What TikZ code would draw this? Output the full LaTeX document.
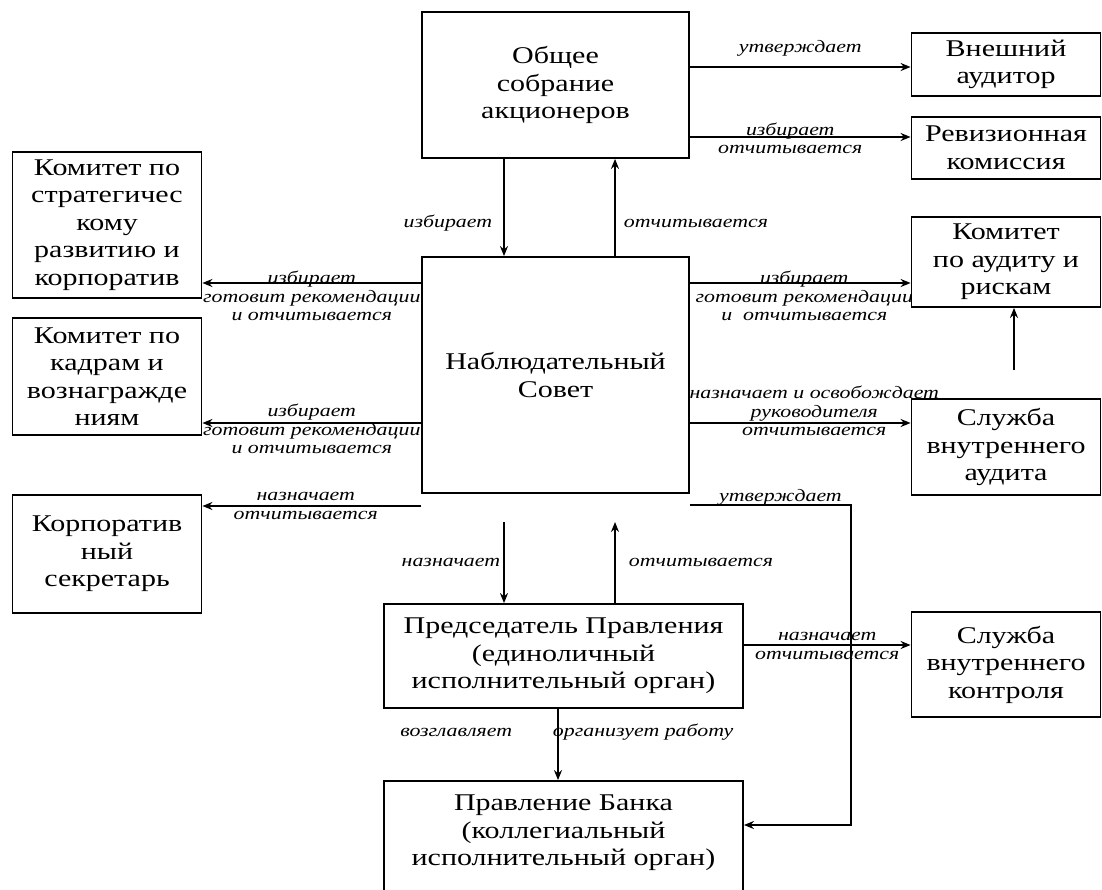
\documentclass[tikz,border=0pt]{standalone}
\usepackage{fontspec}
\setmainfont{Liberation Serif}[FakeStretch=1.25]
\usepackage{tikz}
\usetikzlibrary{arrows.meta,calc}
\newcommand{\boxfont}{\fontsize{24}{27.5}\selectfont}
\newcommand{\lblfont}{\itshape\fontsize{17.5}{18.5}\selectfont}
\pgfdeclarelayer{bg}
\pgfsetlayers{bg,main}
\tikzstyle{mainbox} = [rectangle, font=\boxfont, minimum width=267pt, align=center, draw=black, fill=white, line width=1.8pt]
\tikzstyle{execbox} = [rectangle, font=\boxfont, minimum width=359pt, align=center, draw=black, fill=white, line width=1.8pt]
\tikzstyle{sidebox} = [rectangle, font=\boxfont, minimum width=189pt, align=center, draw=black, fill=white, line width=1.8pt]
\tikzstyle{lbl} = [font=\lblfont, align=center, inner sep=3pt]
\tikzstyle{arrow} = [line width=1.8pt,->,>={Stealth[length=10pt,width=8pt]}]
\begin{document}
\begin{tikzpicture}[x=1pt, y=1pt]
\clip (0,0) rectangle (1102,-890);
\node (gm) [mainbox, minimum height=146pt] at (555.5,-85) {Общее\\собрание\\акционеров};
\node (ns) [mainbox, minimum height=236pt, node distance=290pt, below of=gm] {Наблюдательный\\Совет};
\node (pred) [execbox, minimum height=104pt, node distance=281pt, below of=ns, xshift=8pt] {Председатель Правления\\(единоличный\\исполнительный орган)};
\node (prav) [execbox, minimum height=126pt, node distance=188pt, below of=pred] {Правление Банка\\(коллегиальный\\исполнительный орган)\\ \mbox{}};
\node (vn) [sidebox, minimum height=63pt, node distance=450.5pt, right of=gm, yshift=20.5pt] {Внешний\\аудитор};
\node (rev) [sidebox, minimum height=62pt, node distance=83.5pt, below of=vn] {Ревизионная\\комиссия};
\node (ka) [sidebox, minimum height=90pt, node distance=114pt, below of=rev] {Комитет\\по аудиту и\\рискам};
\node (sva) [sidebox, minimum height=96pt, node distance=185pt, below of=ka] {Служба\\внутреннего\\аудита};
\node (svk) [sidebox, minimum height=105pt, node distance=217.5pt, below of=sva] {Служба\\внутреннего\\контроля};
\node (ks) [sidebox, minimum height=146pt, node distance=448.5pt, left of=ns, yshift=150pt] {Комитет по\\стратегичес\\кому\\развитию и\\корпоратив};
\node (kk) [sidebox, minimum height=117pt, node distance=151.5pt, below of=ks] {Комитет по\\кадрам и\\вознагражде\\ниям};
\node (sec) [sidebox, minimum height=118pt, node distance=177.5pt, below of=kk] {Корпоратив\\ный\\секретарь};

\coordinate (nsDown) at (504,-522);
\coordinate (nsUp) at (615,-522);
\coordinate (secFrom) at (ns.south west |- 0,-506);
\coordinate (pravFrom) at (ns.south east |- 0,-505);
\coordinate (kaFrom) at (1014,-370);

\begin{pgfonlayer}{bg}
\draw [arrow] (gm.south -| nsDown) -- node[lbl, anchor=east, pos=0.66, xshift=-8pt] {избирает} (ns.north -| nsDown);
\draw [arrow] (ns.north -| nsUp) -- node[lbl, anchor=west, pos=0.34, xshift=5pt] {отчитывается} (gm.south -| nsUp);
\draw [arrow] (gm.east |- 0,-67) -- node[lbl, yshift=19pt] {утверждает} (vn.west |- 0,-67);
\draw [arrow] (gm.east |- 0,-137) -- node[lbl, yshift=-1.5pt, xshift=-10pt] {избирает\\отчитывается} (rev.west |- 0,-137);
\draw [arrow] (ns.west |- 0,-283) -- node[lbl, yshift=-13pt] {избирает\\готовит рекомендации\\и отчитывается} (ks.east |- 0,-283);
\draw [arrow] (ns.west |- 0,-423) -- node[lbl, yshift=-6pt] {избирает\\готовит рекомендации\\и отчитывается} (kk.east |- 0,-423);
\draw [arrow] (secFrom) -- node[lbl, xshift=-6pt] {назначает\\отчитывается} (sec.east |- secFrom);
\draw [arrow] (ns.east |- 0,-283) -- node[lbl, yshift=-13pt, xshift=4pt] {избирает\\готовит рекомендации\\и~~отчитывается} (ka.west |- 0,-283);
\draw [arrow] (ns.east |- 0,-423) -- node[lbl, yshift=12pt, xshift=14pt] {назначает и освобождает\\руководителя\\отчитывается} (sva.west |- 0,-423);
\draw [arrow] (kaFrom) -- (ka.south -| kaFrom);
\draw [arrow] (pravFrom) -- node[lbl, yshift=8pt, xshift=10pt] {утверждает} ++(161,0) |- ([yshift=19pt]prav.east);
\draw [arrow] (nsDown) -- node[lbl, anchor=east] {назначает} (pred.north -| nsDown);
\draw [arrow] (pred.north -| nsUp) -- node[lbl, anchor=west, xshift=10pt] {отчитывается} (nsUp);
\draw [arrow] (pred.east |- 0,-645) -- node[lbl, yshift=-1pt] {назначает\\отчитывается} (svk.west |- 0,-645);
\draw [arrow] (pred.south -| 558,0) -- node[lbl, pos=0.33, anchor=east, xshift=-42pt] {возглавляет} node[lbl, pos=0.33, anchor=west, xshift=-9pt] {организует работу} (prav.north -| 558,0);
\end{pgfonlayer}
\end{tikzpicture}
\end{document}
